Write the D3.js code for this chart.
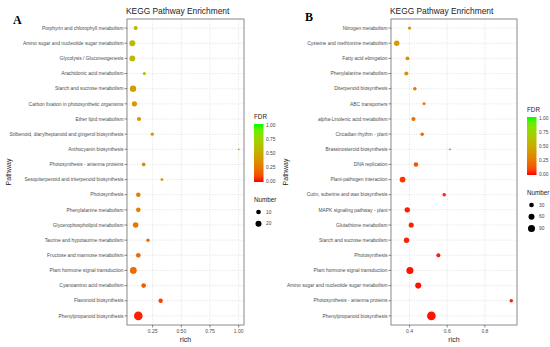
<!DOCTYPE html>
<html>
<head>
<meta charset="utf-8">
<script src="https://cdn.jsdelivr.net/npm/d3@7"></script>
<style>
  body { margin: 0; background: #fff; }
  svg { display: block; font-family: "Liberation Sans", Arial, sans-serif; }
</style>
</head>
<body>
<svg id="chart" width="550" height="347"></svg>
<script>
// Panel A data (top row first)
const pathwaysA = [
  "Porphyrin and chlorophyll metabolism",
  "Amino sugar and nucleotide sugar metabolism",
  "Glycolysis / Gluconeogenesis",
  "Arachidonic acid metabolism",
  "Starch and sucrose metabolism",
  "Carbon fixation in photosynthetic organisms",
  "Ether lipid metabolism",
  "Stilbenoid, diarylheptanoid and gingerol biosynthesis",
  "Anthocyanin biosynthesis",
  "Photosynthesis - antenna proteins",
  "Sesquiterpenoid and triterpenoid biosynthesis",
  "Photosynthesis",
  "Phenylalanine metabolism",
  "Glycerophospholipid metabolism",
  "Taurine and hypotaurine metabolism",
  "Fructose and mannose metabolism",
  "Plant hormone signal transduction",
  "Cyanoamino acid metabolism",
  "Flavonoid biosynthesis",
  "Phenylpropanoid biosynthesis"
];
const richA = [0.102, 0.073, 0.073, 0.178, 0.079, 0.091, 0.131, 0.247, 1.0, 0.172,
               0.331, 0.125, 0.125, 0.102, 0.209, 0.125, 0.082, 0.172, 0.320, 0.125];
const fdrA = [0.60, 0.58, 0.58, 0.62, 0.42, 0.40, 0.38, 0.36, 0.35, 0.35,
              0.33, 0.28, 0.28, 0.25, 0.22, 0.20, 0.20, 0.15, 0.08, 0.02];
const countA = [7, 20, 19, 3, 23, 13, 7, 3, 1, 5,
                2, 9, 9, 16, 4, 10, 27, 10, 8, 50];
const ticksA = [0.25, 0.5, 0.75, 1.0];
const sizeBreaksA = [10, 20];

// Panel B data
const pathwaysB = [
  "Nitrogen metabolism",
  "Cysteine and methionine metabolism",
  "Fatty acid elongation",
  "Phenylalanine metabolism",
  "Diterpenoid biosynthesis",
  "ABC transporters",
  "alpha-Linolenic acid metabolism",
  "Circadian rhythm - plant",
  "Brassinosteroid biosynthesis",
  "DNA replication",
  "Plant-pathogen interaction",
  "Cutin, suberine and wax biosynthesis",
  "MAPK signaling pathway - plant",
  "Glutathione metabolism",
  "Starch and sucrose metabolism",
  "Photosynthesis",
  "Plant hormone signal transduction",
  "Amino sugar and nucleotide sugar metabolism",
  "Photosynthesis - antenna proteins",
  "Phenylpropanoid biosynthesis"
];
const richB = [0.400, 0.332, 0.389, 0.383, 0.428, 0.477, 0.421, 0.467, 0.614, 0.434,
               0.363, 0.584, 0.388, 0.409, 0.384, 0.553, 0.402, 0.446, 0.940, 0.516];
const fdrB = [0.40, 0.42, 0.38, 0.38, 0.25, 0.25, 0.22, 0.20, 0.15, 0.12,
              0.05, 0.03, 0.02, 0.02, 0.02, 0.02, 0.01, 0.01, 0.02, 0.01];
const countB = [11, 46, 18, 22, 14, 9, 22, 14, 5, 27,
                55, 14, 46, 39, 46, 22, 91, 62, 14, 150];
const ticksB = [0.4, 0.6, 0.8];
const sizeBreaksB = [30, 60, 90];

const fdrTicks = [0, 0.25, 0.5, 0.75, 1.0];

const svg = d3.select("#chart");
const defs = svg.append("defs");

const color = d3.scaleLinear()
    .domain([0, 1])
    .range(["#ff0000", "#00ff00"])
    .interpolate(d3.interpolateLab);

// vertical gradient for the FDR colour bar
const grad = defs.append("linearGradient")
    .attr("id", "fdr-grad")
    .attr("x1", "0%").attr("y1", "100%")
    .attr("x2", "0%").attr("y2", "0%");
grad.selectAll("stop")
    .data(d3.range(0, 1.01, 0.1))
    .enter().append("stop")
    .attr("offset", d => (d * 100) + "%")
    .attr("stop-color", d => color(d));

function drawPanel(cfg) {
    const g = svg.append("g");
    const { left, right, top, bottom } = cfg;

    const ext = d3.extent(cfg.rich);
    const pad = (ext[1] - ext[0]) * 0.05;  // ggplot-like 5% expansion
    const x = d3.scaleLinear()
        .domain([ext[0] - pad, ext[1] + pad])
        .range([left, right]);

    const y = d3.scalePoint()
        .domain(cfg.pathways)
        .range([top, bottom])
        .padding(0.6);

    // size: area proportional, like scale_size
    const cExt = d3.extent(cfg.count);
    const norm = d3.scaleLinear().domain(cExt).range([0, 1]).clamp(true);
    const rad = d3.scaleSqrt().domain([0, 1]).range([0.9, 4.3]);
    const r = v => rad(norm(v));

    // grid
    g.selectAll(".gy").data(cfg.pathways).enter().append("line")
        .attr("x1", left).attr("x2", right)
        .attr("y1", d => y(d)).attr("y2", d => y(d))
        .attr("stroke", "#d6d6d6").attr("stroke-width", 0.7)
        .attr("stroke-dasharray", "1,1.5");
    g.selectAll(".gx").data(cfg.ticks).enter().append("line")
        .attr("x1", d => x(d)).attr("x2", d => x(d))
        .attr("y1", top).attr("y2", bottom)
        .attr("stroke", "#d6d6d6").attr("stroke-width", 0.7)
        .attr("stroke-dasharray", "1,1.5");

    // points
    const pts = cfg.pathways.map((p, i) => ({ p, rich: cfg.rich[i], fdr: cfg.fdr[i], n: cfg.count[i] }));
    g.selectAll(".pt").data(pts).enter().append("circle")
        .attr("cx", d => x(d.rich))
        .attr("cy", d => y(d.p))
        .attr("r", d => r(d.n))
        .attr("fill", d => color(d.fdr));

    // border
    g.append("rect")
        .attr("x", left).attr("y", top)
        .attr("width", right - left).attr("height", bottom - top)
        .attr("fill", "none").attr("stroke", "#8a8a8a").attr("stroke-width", 1);

    // y axis ticks + labels
    g.selectAll(".yt").data(cfg.pathways).enter().append("line")
        .attr("x1", left - 2.5).attr("x2", left)
        .attr("y1", d => y(d)).attr("y2", d => y(d))
        .attr("stroke", "#555").attr("stroke-width", 0.7);
    g.selectAll(".yl").data(cfg.pathways).enter().append("text")
        .attr("x", left - 3.5).attr("y", d => y(d))
        .attr("dy", "0.35em")
        .attr("text-anchor", "end")
        .style("font-size", "4.9px")
        .attr("fill", "#4d4d4d")
        .text(d => d);

    // x axis ticks + labels
    g.selectAll(".xt").data(cfg.ticks).enter().append("line")
        .attr("x1", d => x(d)).attr("x2", d => x(d))
        .attr("y1", bottom).attr("y2", bottom + 2.5)
        .attr("stroke", "#555").attr("stroke-width", 0.7);
    g.selectAll(".xl").data(cfg.ticks).enter().append("text")
        .attr("x", d => x(d)).attr("y", bottom + 8)
        .attr("text-anchor", "middle")
        .style("font-size", "5px")
        .attr("fill", "#4d4d4d")
        .text(d => d.toFixed(cfg.tickDigits));

    // titles
    g.append("text")
        .attr("x", left - 1).attr("y", 13.5)
        .style("font-size", "8.4px").attr("fill", "#222")
        .text("KEGG Pathway Enrichment");
    g.append("text")
        .attr("x", (left + right) / 2).attr("y", 341.5)
        .attr("text-anchor", "middle")
        .style("font-size", "7px").attr("fill", "#222")
        .text("rich");
    g.append("text")
        .attr("transform", `translate(${cfg.yTitleX}, ${(top + bottom) / 2}) rotate(-90)`)
        .attr("text-anchor", "middle")
        .style("font-size", "7px").attr("fill", "#222")
        .text("Pathway");
    g.append("text")
        .attr("x", cfg.tagX).attr("y", cfg.tagY)
        .style("font-family", "'Liberation Serif', 'Times New Roman', serif")
        .style("font-weight", "bold")
        .style("font-size", "12px")
        .text(cfg.tag);

    // FDR legend
    const lx = cfg.legX, ly = cfg.legY;
    g.append("text").attr("x", lx).attr("y", ly)
        .style("font-size", "6.3px").attr("fill", "#222").text("FDR");
    const barTop = ly + 5, barH = 58;
    g.append("rect")
        .attr("x", lx).attr("y", barTop)
        .attr("width", 9.5).attr("height", barH)
        .attr("fill", "url(#fdr-grad)");
    const ly2 = d3.scaleLinear().domain([0, 1]).range([barTop + barH - 1, barTop + 1]);
    g.selectAll(".fl").data(fdrTicks).enter().append("text")
        .attr("x", lx + 12).attr("y", d => ly2(d))
        .attr("dy", "0.35em")
        .style("font-size", "4.8px").attr("fill", "#444")
        .text(d => d.toFixed(2));

    // Number legend
    const ny = barTop + barH + 20;
    g.append("text").attr("x", lx).attr("y", ny)
        .style("font-size", "6.3px").attr("fill", "#222").text("Number");
    g.selectAll(".nd").data(cfg.sizeBreaks).enter().append("circle")
        .attr("cx", lx + 4.5).attr("cy", (d, i) => ny + 10 + i * 11.8)
        .attr("r", d => r(d))
        .attr("fill", "#000");
    g.selectAll(".nl").data(cfg.sizeBreaks).enter().append("text")
        .attr("x", lx + 12).attr("y", (d, i) => ny + 10 + i * 11.8)
        .attr("dy", "0.35em")
        .style("font-size", "4.8px").attr("fill", "#444")
        .text(d => d);
}

drawPanel({
    pathways: pathwaysA, rich: richA, fdr: fdrA, count: countA,
    ticks: ticksA, tickDigits: 2, sizeBreaks: sizeBreaksA,
    left: 127, right: 244, top: 19, bottom: 325,
    yTitleX: 11, tag: "A", tagX: 13, tagY: 24,
    legX: 254, legY: 119
});

drawPanel({
    pathways: pathwaysB, rich: richB, fdr: fdrB, count: countB,
    ticks: ticksB, tickDigits: 1, sizeBreaks: sizeBreaksB,
    left: 391, right: 517, top: 19, bottom: 325,
    yTitleX: 288, tag: "B", tagX: 305, tagY: 21,
    legX: 527, legY: 112
});
</script>
</body>
</html>
